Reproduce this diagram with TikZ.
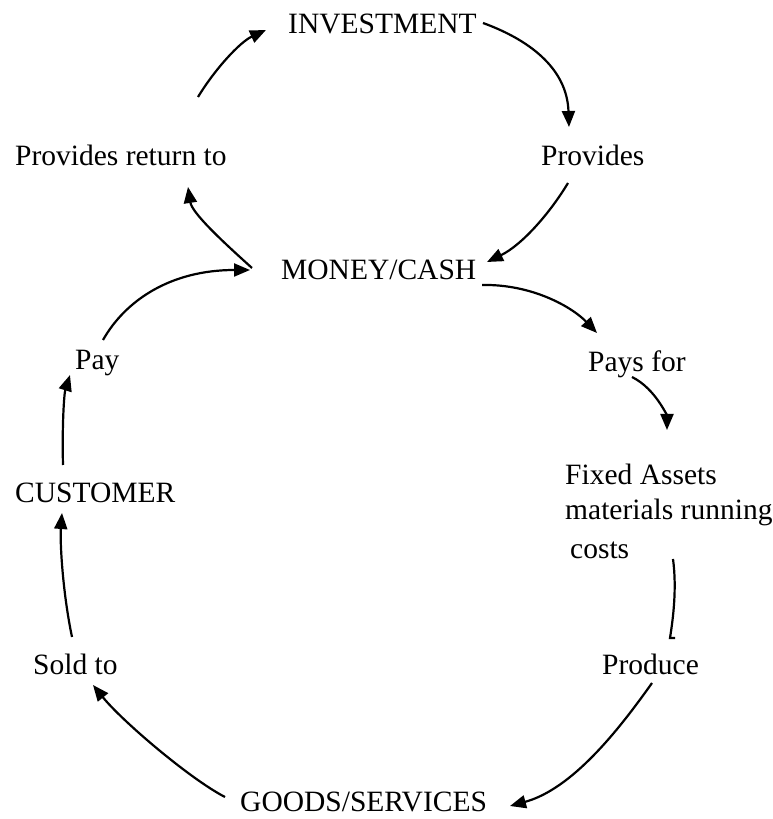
\documentclass[tikz,border=0pt]{standalone}
\usepackage{fontspec}
\setmainfont{Liberation Serif}
\usetikzlibrary{arrows.meta}

\tikzset{
    word/.style={inner sep=0pt, anchor=base west, font=\fontsize{29.5}{35}\selectfont},
    flow/.style={line width=2.2pt, -{Triangle[length=16pt, width=13pt]}}
}

\begin{document}
\begin{tikzpicture}[x=1pt, y=1pt]
    \useasboundingbox (0,0) rectangle (773,819);

    % Cycle labels
    \node[word] (inv) at (288, 785) {INVESTMENT};
    \node[word] (ret) at (15, 653) {Provides return to};
    \node[word] (prov) at (541, 653) {Provides};
    \node[word] (money) at (281, 539) {MONEY/CASH};
    \node[word] (paysfor) at (588, 447) {Pays for};
    \node[word] (pay) at (75, 449) {Pay};
    \node[word, anchor=north west, align=left] (fixed) at (565, 355) {Fixed Assets\\materials running\\[4pt]\hspace{5pt}costs};
    \node[word] (cust) at (15, 316) {CUSTOMER};
    \node[word] (sold) at (33, 144) {Sold to};
    \node[word] (produce) at (602, 144) {Produce};
    \node[word] (goods) at (240, 7) {GOODS/SERVICES};

    % Connections
    \draw[flow] ([shift={(183,69)}]ret.base west) .. controls (215,750) and (240,777) .. ([shift={(-22,4)}]inv.base west);
    \draw[flow] ([shift={(195,11)}]inv.base west) .. controls (527,780) and (567,752) .. ([shift={(28,39)}]prov.base west);
    \draw[flow] ([shift={(27,-17)}]prov.base west) .. controls (550,606) and (522,574) .. ([shift={(206,18)}]money.base west);
    \draw[flow] ([shift={(-29,12)}]money.base west) .. controls (222,578) and (192,606) .. ([shift={(173,-21)}]ret.base west);
    \draw[flow] ([shift={(28,30)}]pay.base west) .. controls (125,518) and (170,549) .. ([shift={(-31,10)}]money.base west);
    \draw[flow] ([shift={(201,-5)}]money.base west) .. controls (532,535) and (572,512) .. ([shift={(9,39)}]paysfor.base west);
    \draw[flow] ([shift={(44,-5)}]paysfor.base west) .. controls (656,430) and (667,402) .. ([shift={(102,34)}]fixed.north west);

    \draw[line width=2.2pt] ([shift={(108,-95)}]fixed.north west) .. controls (677,230) and (673,200) .. ([shift={(68,37)}]produce.base west) -- ++(5,0);

    \draw[flow] ([shift={(50,-8)}]produce.base west) .. controls (618,88) and (572,30) .. ([shift={(270,6)}]goods.base west);
    \draw[flow] ([shift={(-15,15)}]goods.base west) .. controls (190,40) and (122,98) .. ([shift={(60,-10)}]sold.base west);
    \draw[flow] ([shift={(39,38)}]sold.base west) .. controls (62,230) and (60,280) .. ([shift={(47,-10)}]cust.base west);
    \draw[flow] ([shift={(48,38)}]cust.base west) .. controls (62,392) and (64,425) .. ([shift={(-5,-5)}]pay.base west);
\end{tikzpicture}
\end{document}
